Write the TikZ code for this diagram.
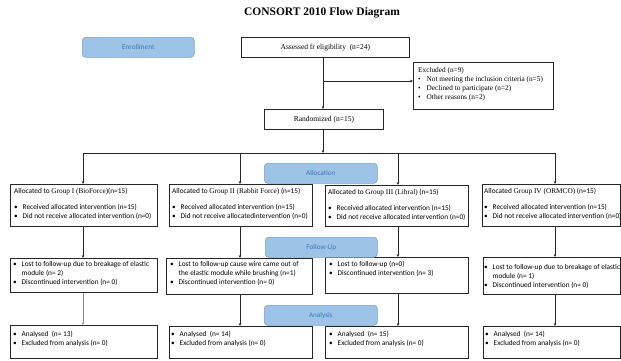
\documentclass[tikz,border=0pt]{standalone}
\usepackage{fontspec}
\setmainfont{Liberation Serif}
\newfontfamily\calfont{Carlito}
\usetikzlibrary{arrows.meta}
\definecolor{bluefill}{RGB}{157,195,230}
\definecolor{blueline}{RGB}{120,160,205}
\definecolor{bluetext}{RGB}{60,120,190}
\newcommand{\bl}{\makebox[8.5pt][l]{•}}
\newcommand{\ind}{\hspace*{8.5pt}}
\begin{document}
\begin{tikzpicture}[x=1pt,y=-1pt,
  wbox/.style={draw=black!85,line width=0.8pt,fill=white,rectangle,inner sep=0pt,anchor=north west},
  bbox/.style={draw=blueline,line width=0.6pt,fill=bluefill,rounded corners=3.5pt,inner sep=0pt,anchor=north west,
     font=\calfont\fontsize{7.2}{8}\selectfont,text=bluetext},
  stxt/.style={anchor=north west,inner sep=0pt,align=left,font=\calfont\fontsize{7.3}{9}\selectfont},
  rtxt/.style={anchor=north west,inner sep=0pt,align=left,font=\fontsize{7.3}{9}\selectfont},
  arr/.style={-{Stealth[length=3pt,width=2.6pt]},line width=0.8pt,draw=black!85},
  ln/.style={line width=0.8pt,draw=black!85}]
\useasboundingbox (0,0) rectangle (621,360);
\fill[white] (0,0) rectangle (621,360);

% title
\node[font=\bfseries\fontsize{11.5}{13}\selectfont] (title) at (322,13) {CONSORT 2010 Flow Diagram};

% enrollment
\node[bbox,minimum width=112pt,minimum height=20pt] (enr) at (82,37) {Enrollment};
\node[wbox,minimum width=168pt,minimum height=20pt,font=\fontsize{7.5}{8}\selectfont] (ass) at (241,37) {Assessed fr eligibility\ \ (n=24)};
\node[wbox,minimum width=140pt,minimum height=47pt] (exc) at (413,62) {};
\node[rtxt] (exct) at (418,67) {Excluded (n=9)\\ \bl Not meeting the inclusion criteria (n=5)\\ \bl Declined to participate (n=2)\\ \bl Other reasons (n=2)};
\node[wbox,minimum width=119pt,minimum height=20pt,font=\fontsize{7.5}{8}\selectfont] (rand) at (264,109) {Randomized (n=15)};

\coordinate (ex) at (323,81);
\draw[arr] (ass.south -| ex) -- (rand.north -| ex);
\draw[arr] (ex) -- (ex -| exc.west);

% allocation row
\coordinate (hl) at (83,153);
\coordinate (hm) at (323,153);
\coordinate (hr) at (555,153);
\coordinate (h2) at (240,153);
\coordinate (h3) at (398,153);
\draw[ln] (hl) -- (hr);
\draw[arr] (rand.south -| hm) -- (hm);

\node[wbox,minimum width=147pt,minimum height=42pt] (g1) at (10,184) {};
\node[wbox,minimum width=143pt,minimum height=42pt] (g2) at (169,184) {};
\node[wbox,minimum width=143pt,minimum height=41pt] (g3) at (325,185) {};
\node[wbox,minimum width=138pt,minimum height=42pt] (g4) at (482,184) {};

\node[stxt] (g1t) at (14,188) {Allocated to {\rmfamily Group I (BioForce)}(n=15)\\[7pt] \bl Received allocated intervention (n=15)\\ \bl Did not receive allocated intervention (n=0)};
\node[stxt] (g2t) at (172,188) {Allocated to {\rmfamily Group II (Rabbit Force)} (n=15)\\[7pt] \bl Received allocated intervention (n=15)\\ \bl Did not receive allocatedintervention (n=0)};
\node[stxt] (g3t) at (328,189) {Allocated to {\rmfamily Group III (Libral)} (n=15)\\[7pt] \bl Received allocated intervention (n=15)\\ \bl Did not receive allocated intervention (n=0)};
\node[stxt] (g4t) at (484,188) {Allocated {\rmfamily Group IV (ORMCO)} (n=15)\\[7pt] \bl Received allocated intervention (n=15)\\ \bl Did not receive allocated intervention (n=0)};

\draw[arr] (hl) -- (hl |- g1.north);
\draw[arr] (h2) -- (h2 |- g2.north);
\draw[arr] (h3) -- (h3 |- g3.north);
\draw[arr] (hr) -- (hr |- g4.north);

% follow-up row
\node[wbox,minimum width=147pt,minimum height=34pt] (f1) at (10,258) {};
\node[wbox,minimum width=146pt,minimum height=36pt] (f2) at (166,258) {};
\node[wbox,minimum width=143pt,minimum height=36pt] (f3) at (325,257) {};
\node[wbox,minimum width=137pt,minimum height=37pt] (f4) at (483,257) {};

\node[stxt] (f1t) at (13,261) {\bl Lost to follow-up due to breakage of elastic\\ \ind module (n= 2)\\ \bl Discontinued intervention (n= 0)};
\node[stxt] (f2t) at (170,261) {\bl Lost to follow-up cause wire came out of\\ \ind the elastic module while brushing (n=1)\\ \bl Discontinued intervention (n= 0)};
\node[stxt] (f3t) at (329,261) {\bl Lost to follow-up (n=0)\\ \bl Discontinued intervention (n= 3)};
\node[stxt] (f4t) at (484,264) {\bl Lost to follow-up due to breakage of elastic\\ \ind module (n= 1)\\ \bl Discontinued intervention (n= 0)};

\draw[arr] (g1.south -| hl) -- (f1.north -| hl);
\draw[arr] (g2.south -| h2) -- (f2.north -| h2);
\draw[arr] (g3.south -| h3) -- (f3.north -| h3);
\draw[arr] (g4.south -| hr) -- (f4.north -| hr);

% analysis row
\node[wbox,minimum width=147pt,minimum height=33pt] (a1) at (10,325) {};
\node[wbox,minimum width=143pt,minimum height=32pt] (a2) at (169,326) {};
\node[wbox,minimum width=143pt,minimum height=32pt] (a3) at (325,326) {};
\node[wbox,minimum width=137pt,minimum height=32pt] (a4) at (483,326) {};

\node[stxt] (a1t) at (13,331) {\bl Analysed\ \ (n= 13)\\ \bl Excluded from analysis (n= 0)};
\node[stxt] (a2t) at (171,331) {\bl Analysed\ \ (n= 14)\\ \bl Excluded from analysis (n= 0)};
\node[stxt] (a3t) at (329,331) {\bl Analysed\ \ (n= 15)\\ \bl Excluded from analysis (n= 0)};
\node[stxt] (a4t) at (485,331) {\bl Analysed\ \ (n= 14)\\ \bl Excluded from analysis (n= 0)};

\draw[-{Stealth[length=2.5pt,width=2pt]},line width=0.4pt,draw=black!45] (f1.south -| hl) -- (a1.north -| hl);
\draw[arr] (f2.south -| h2) -- (a2.north -| h2);
\draw[arr] (f3.south -| h3) -- (a3.north -| h3);
\draw[arr] (f4.south -| hr) -- (a4.north -| hr);

% blue stage labels
\node[bbox,minimum width=113pt,minimum height=20pt] (alloc) at (264,163) {Allocation};
\node[bbox,minimum width=112pt,minimum height=20pt] (fol) at (265,237) {Follow-Up};
\node[bbox,minimum width=113pt,minimum height=20pt] (ana) at (264,305) {Analysis};
\end{tikzpicture}
\end{document}
